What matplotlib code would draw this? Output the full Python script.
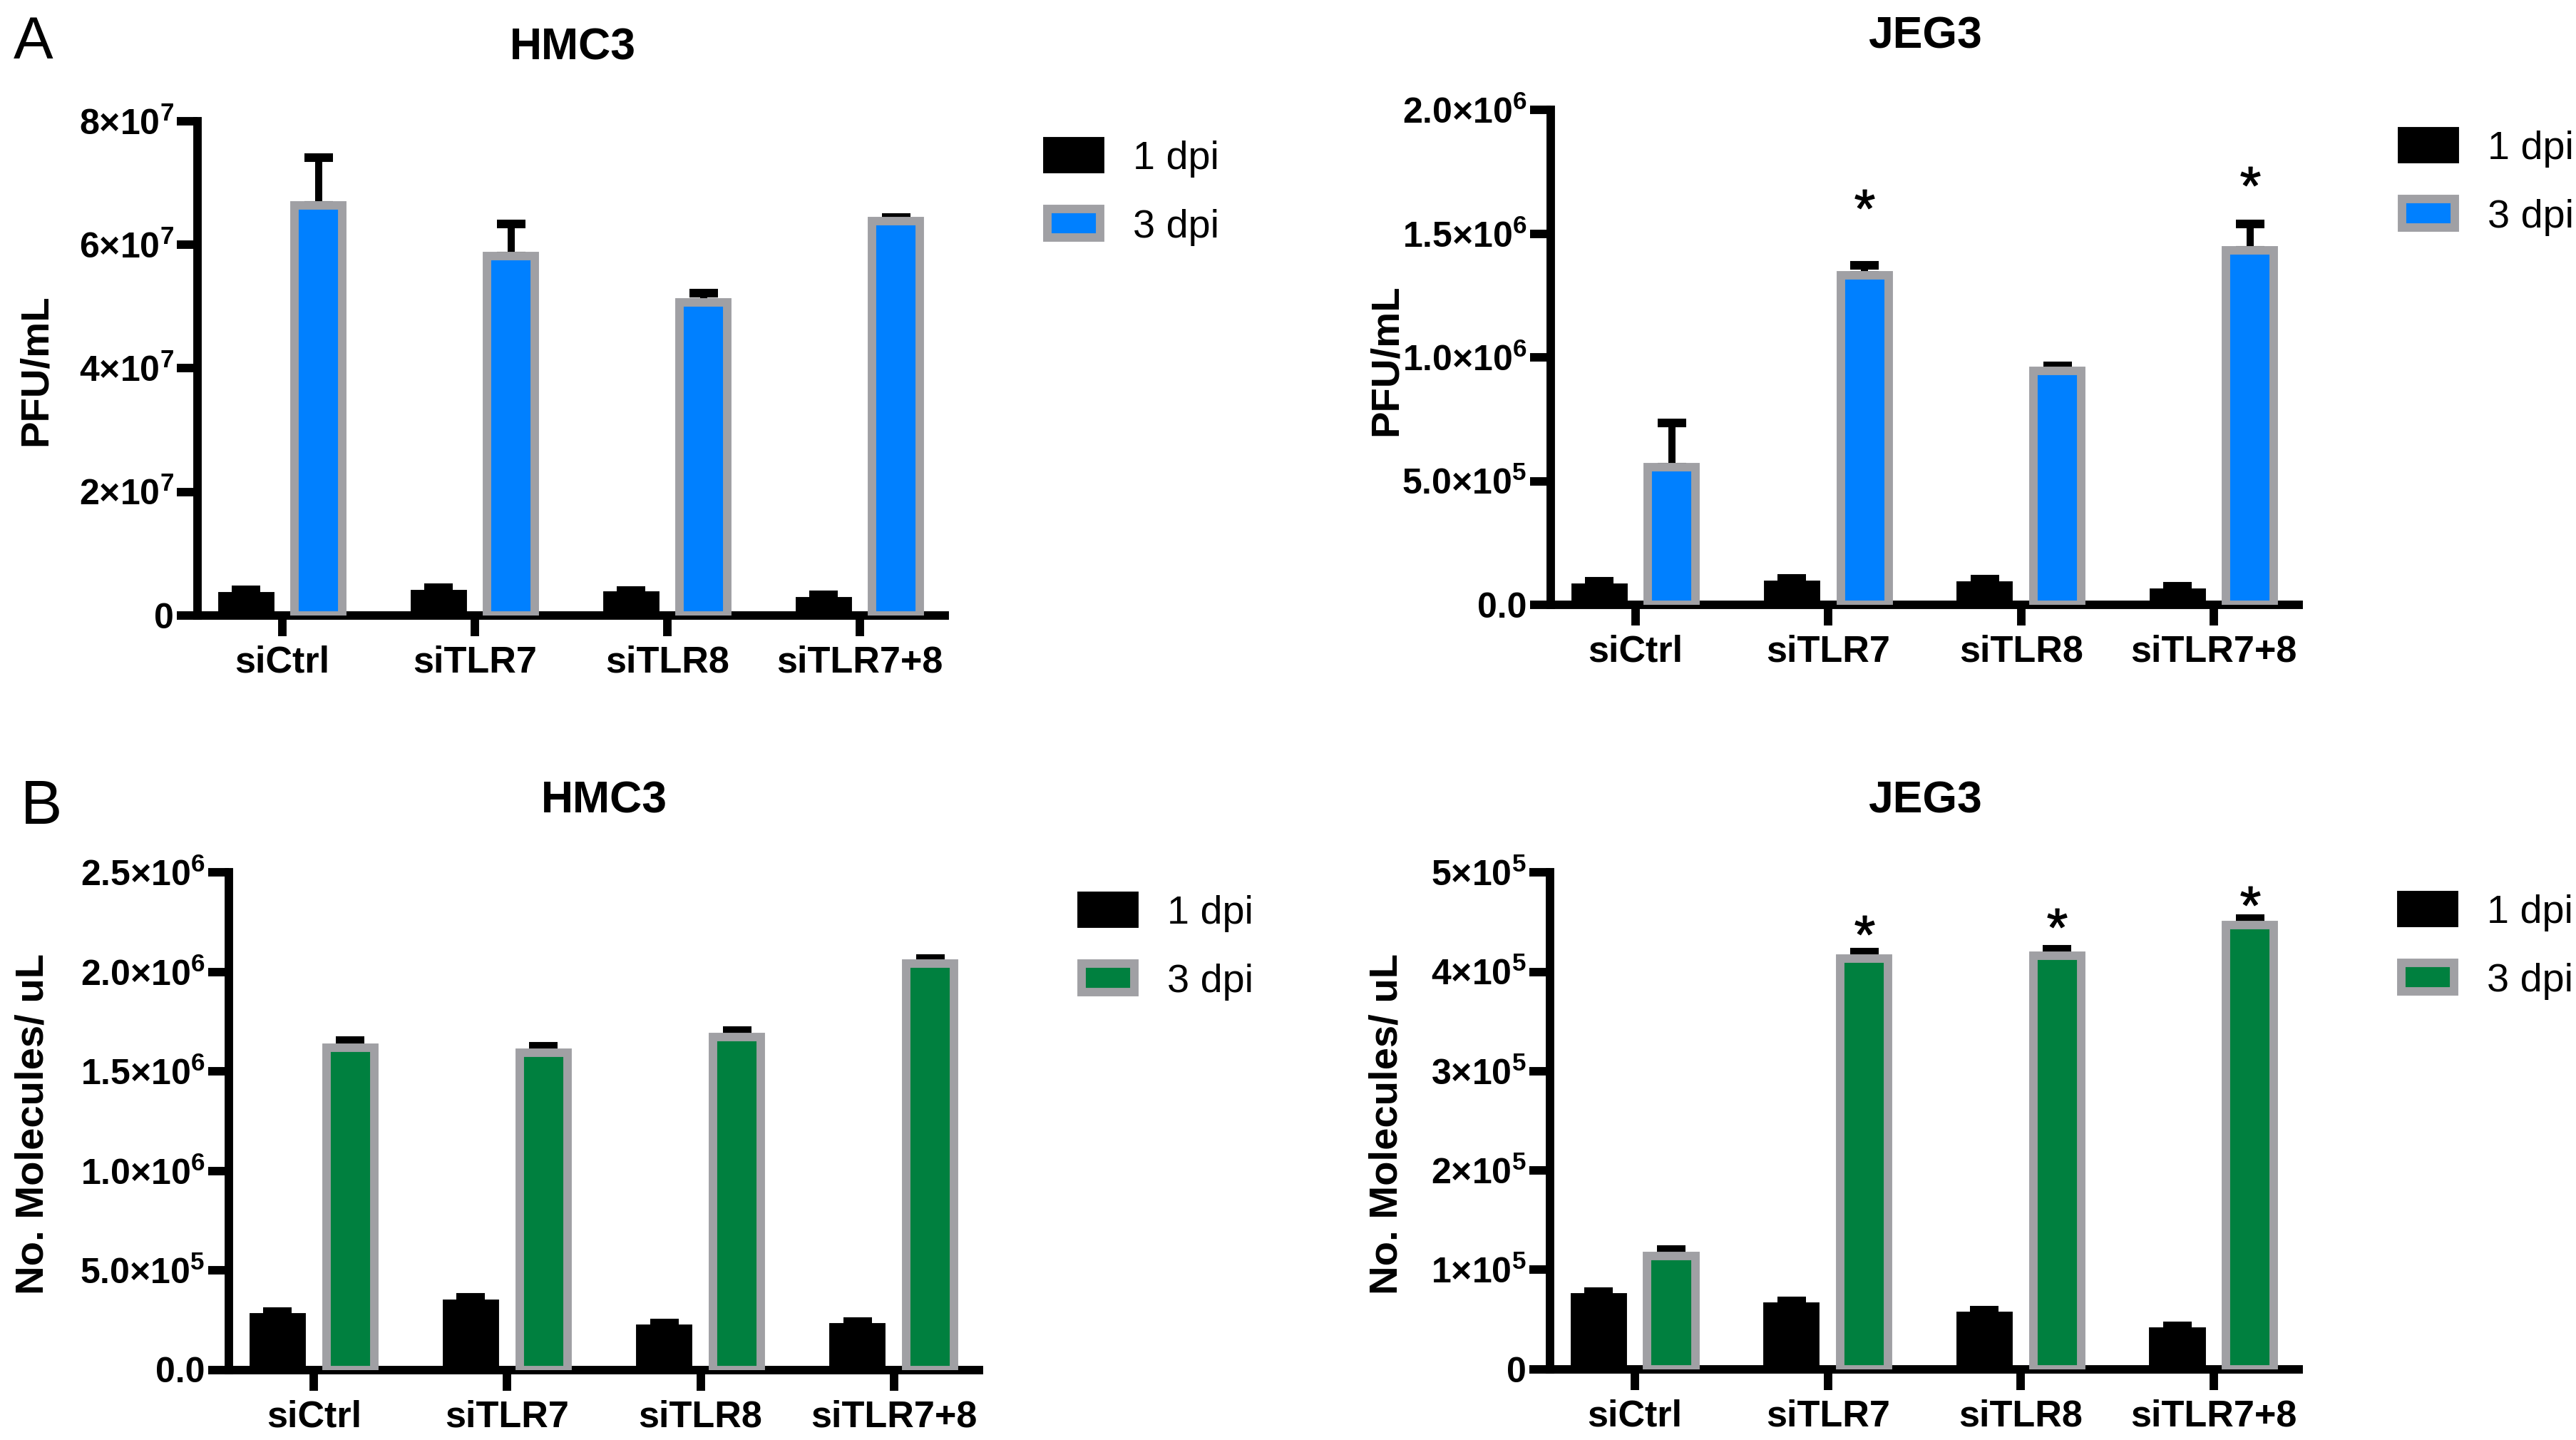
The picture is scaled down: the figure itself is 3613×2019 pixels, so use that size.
import numpy as np
import matplotlib
matplotlib.use("Agg")
import matplotlib.pyplot as plt

plt.rcParams['font.family'] = ['Liberation Sans', 'DejaVu Sans']
plt.rcParams['mathtext.fontset'] = 'custom'
plt.rcParams['mathtext.rm'] = 'Liberation Sans'
plt.rcParams['mathtext.bf'] = 'Liberation Sans:bold'
plt.rcParams['mathtext.it'] = 'Liberation Sans:italic'

# ---------------- data ----------------
categories = ['siCtrl', 'siTLR7', 'siTLR8', 'siTLR7+8']
series_labels = ['1 dpi', '3 dpi']

# Panel A - HMC3 (PFU/mL)
a_hmc3_1dpi = [3.06e6, 3.49e6, 3.18e6, 2.34e6]
a_hmc3_1dpi_err = [1.1e6, 1.0e6, 0.85e6, 1.0e6]
a_hmc3_3dpi = [6.64e7, 5.82e7, 5.07e7, 6.38e7]
a_hmc3_3dpi_err = [7.7e6, 5.2e6, 1.5e6, 0.6e6]
a_hmc3_yticks = [0, 2e7, 4e7, 6e7, 8e7]
a_hmc3_yticklabels = ['0', r'$\mathbf{2{\times}10^{7}}$', r'$\mathbf{4{\times}10^{7}}$',
                      r'$\mathbf{6{\times}10^{7}}$', r'$\mathbf{8{\times}10^{7}}$']

# Panel A - JEG3 (PFU/mL)
a_jeg3_1dpi = [0.69e5, 0.81e5, 0.77e5, 0.48e5]
a_jeg3_1dpi_err = [0.27e5, 0.25e5, 0.27e5, 0.27e5]
a_jeg3_3dpi = [0.555e6, 1.332e6, 0.944e6, 1.432e6]
a_jeg3_3dpi_err = [0.18e6, 0.04e6, 0.021e6, 0.108e6]
a_jeg3_stars = [None, 1.64e6, None, 1.732e6]
a_jeg3_yticks = [0, 5e5, 1e6, 1.5e6, 2e6]
a_jeg3_yticklabels = ['0.0', r'$\mathbf{5.0{\times}10^{5}}$', r'$\mathbf{1.0{\times}10^{6}}$',
                      r'$\mathbf{1.5{\times}10^{6}}$', r'$\mathbf{2.0{\times}10^{6}}$']

# Panel B - HMC3 (No. Molecules/ uL)
b_hmc3_1dpi = [0.263e6, 0.331e6, 0.206e6, 0.214e6]
b_hmc3_1dpi_err = [0.031e6, 0.032e6, 0.029e6, 0.028e6]
b_hmc3_3dpi = [1.619e6, 1.594e6, 1.673e6, 2.041e6]
b_hmc3_3dpi_err = [0.036e6, 0.031e6, 0.034e6, 0.026e6]
b_hmc3_yticks = [0, 5e5, 1e6, 1.5e6, 2e6, 2.5e6]
b_hmc3_yticklabels = ['0.0', r'$\mathbf{5.0{\times}10^{5}}$', r'$\mathbf{1.0{\times}10^{6}}$',
                      r'$\mathbf{1.5{\times}10^{6}}$', r'$\mathbf{2.0{\times}10^{6}}$',
                      r'$\mathbf{2.5{\times}10^{6}}$']

# Panel B - JEG3 (No. Molecules/ uL)
b_jeg3_1dpi = [0.72e5, 0.627e5, 0.538e5, 0.380e5]
b_jeg3_1dpi_err = [0.058e5, 0.059e5, 0.058e5, 0.057e5]
b_jeg3_3dpi = [1.137e5, 4.134e5, 4.162e5, 4.471e5]
b_jeg3_3dpi_err = [0.066e5, 0.066e5, 0.066e5, 0.066e5]
b_jeg3_stars = [None, 4.472e5, 4.542e5, 4.767e5]
b_jeg3_yticks = [0, 1e5, 2e5, 3e5, 4e5, 5e5]
b_jeg3_yticklabels = ['0', r'$\mathbf{1{\times}10^{5}}$', r'$\mathbf{2{\times}10^{5}}$',
                      r'$\mathbf{3{\times}10^{5}}$', r'$\mathbf{4{\times}10^{5}}$',
                      r'$\mathbf{5{\times}10^{5}}$']

# ---------------- style ----------------
W, H, DPI = 3613, 2019, 300
BLUE = '#0080FF'
GREEN = '#00803F'
GRAY = '#A0A0A4'
LW = 2.85
BAR_W = 0.248
OFF = 0.188
LEG_FS = 13.4

fig = plt.figure(figsize=(W / DPI, H / DPI), dpi=DPI)


def axes_px(left, right, zero_y, top_y):
    return fig.add_axes([left / W, 1 - zero_y / H, (right - left) / W, (zero_y - top_y) / H])


def panel(ax, v1, e1, v3, e3, col3, yticks, yticklabels, stars=None):
    x = np.arange(len(categories))
    b1 = ax.bar(x - OFF, v1, BAR_W, color='black', edgecolor='black', linewidth=LW, zorder=3,
                label=series_labels[0])
    b3 = ax.bar(x + OFF, v3, BAR_W, color=col3, edgecolor=GRAY, linewidth=LW, zorder=3,
                label=series_labels[1])
    z = np.zeros(len(x))
    ax.errorbar(x - OFF, v1, yerr=[z, e1], fmt='none', ecolor='black', elinewidth=2.4,
                capsize=4.8, capthick=2.9, zorder=2)
    ax.errorbar(x + OFF, v3, yerr=[z, e3], fmt='none', ecolor='black', elinewidth=2.4,
                capsize=4.8, capthick=2.9, zorder=2)
    if stars is not None:
        for xi, s in zip(x, stars):
            if s is not None:
                ax.plot([xi + OFF], [s], ls='none', marker=r'$*$', ms=6.5, color='black',
                        mew=0.3, zorder=4, clip_on=False)
    ax.set_xlim(-0.44, 3.44)
    ax.set_ylim(yticks[0], yticks[-1])
    ax.set_xticks(x)
    ax.set_xticklabels(categories, fontsize=12.5, fontweight='bold')
    ax.set_yticks(yticks)
    ax.set_yticklabels(yticklabels, fontsize=12)
    for lab in ax.get_yticklabels():
        lab.set_fontweight('bold')
    for s in ('top', 'right'):
        ax.spines[s].set_visible(False)
    for s in ('left', 'bottom'):
        ax.spines[s].set_linewidth(LW)
        ax.spines[s].set_color('black')
    ax.spines['left'].set_capstyle('projecting')
    ax.tick_params(axis='both', direction='out', length=7, width=LW, color='black')
    ax.tick_params(axis='x', pad=3)
    ax.tick_params(axis='y', pad=1)
    ax.set_facecolor('none')
    return b1, b3


def legend(ax, handles, x_px, y_px):
    ax.legend(handles, series_labels, loc='upper left',
              bbox_to_anchor=(x_px / W, 1 - y_px / H), bbox_transform=fig.transFigure,
              frameon=False, fontsize=LEG_FS, handlelength=1.326, handleheight=0.717,
              handletextpad=0.82, labelspacing=0.78, borderpad=0, borderaxespad=0)


# A - HMC3
ax1 = axes_px(277, 1325, 863, 170)
h = panel(ax1, a_hmc3_1dpi, a_hmc3_1dpi_err, a_hmc3_3dpi, a_hmc3_3dpi_err, BLUE,
          a_hmc3_yticks, a_hmc3_yticklabels)
legend(ax1, h, 1469, 197)

# A - JEG3
ax2 = axes_px(2175, 3224, 848, 154)
h = panel(ax2, a_jeg3_1dpi, a_jeg3_1dpi_err, a_jeg3_3dpi, a_jeg3_3dpi_err, BLUE,
          a_jeg3_yticks, a_jeg3_yticklabels, a_jeg3_stars)
legend(ax2, h, 3369, 183)

# B - HMC3
ax3 = axes_px(321, 1373, 1920.5, 1223.4)
h = panel(ax3, b_hmc3_1dpi, b_hmc3_1dpi_err, b_hmc3_3dpi, b_hmc3_3dpi_err, GREEN,
          b_hmc3_yticks, b_hmc3_yticklabels)
legend(ax3, h, 1517, 1255)

# B - JEG3
ax4 = axes_px(2174, 3224, 1919.7, 1223.4)
h = panel(ax4, b_jeg3_1dpi, b_jeg3_1dpi_err, b_jeg3_3dpi, b_jeg3_3dpi_err, GREEN,
          b_jeg3_yticks, b_jeg3_yticklabels, b_jeg3_stars)
legend(ax4, h, 3368, 1254)

# titles (baseline positions)
fig.text(803 / W, 1 - 83 / H, 'HMC3', ha='center', va='baseline', fontsize=15, fontweight='bold')
fig.text(2700 / W, 1 - 67 / H, 'JEG3', ha='center', va='baseline', fontsize=15, fontweight='bold')
fig.text(847 / W, 1 - 1140 / H, 'HMC3', ha='center', va='baseline', fontsize=15, fontweight='bold')
fig.text(2700 / W, 1 - 1140 / H, 'JEG3', ha='center', va='baseline', fontsize=15, fontweight='bold')

# panel letters
fig.text(19 / W, 1 - 82 / H, 'A', ha='left', va='baseline', fontsize=20)
fig.text(29 / W, 1 - 1155 / H, 'B', ha='left', va='baseline', fontsize=21)

# y-axis labels
fig.text(51 / W, 1 - 519 / H, 'PFU/mL', rotation=90, ha='center', va='center',
         fontsize=13.5, fontweight='bold')
fig.text(1945 / W, 1 - 505 / H, 'PFU/mL', rotation=90, ha='center', va='center',
         fontsize=13.5, fontweight='bold')
fig.text(47 / W, 1 - 1576 / H, 'No. Molecules/ uL', rotation=90, ha='center', va='center',
         fontsize=13.5, fontweight='bold')
fig.text(1946 / W, 1 - 1576 / H, 'No. Molecules/ uL', rotation=90, ha='center', va='center',
         fontsize=13.5, fontweight='bold')

fig.savefig('out.png', dpi=DPI)
